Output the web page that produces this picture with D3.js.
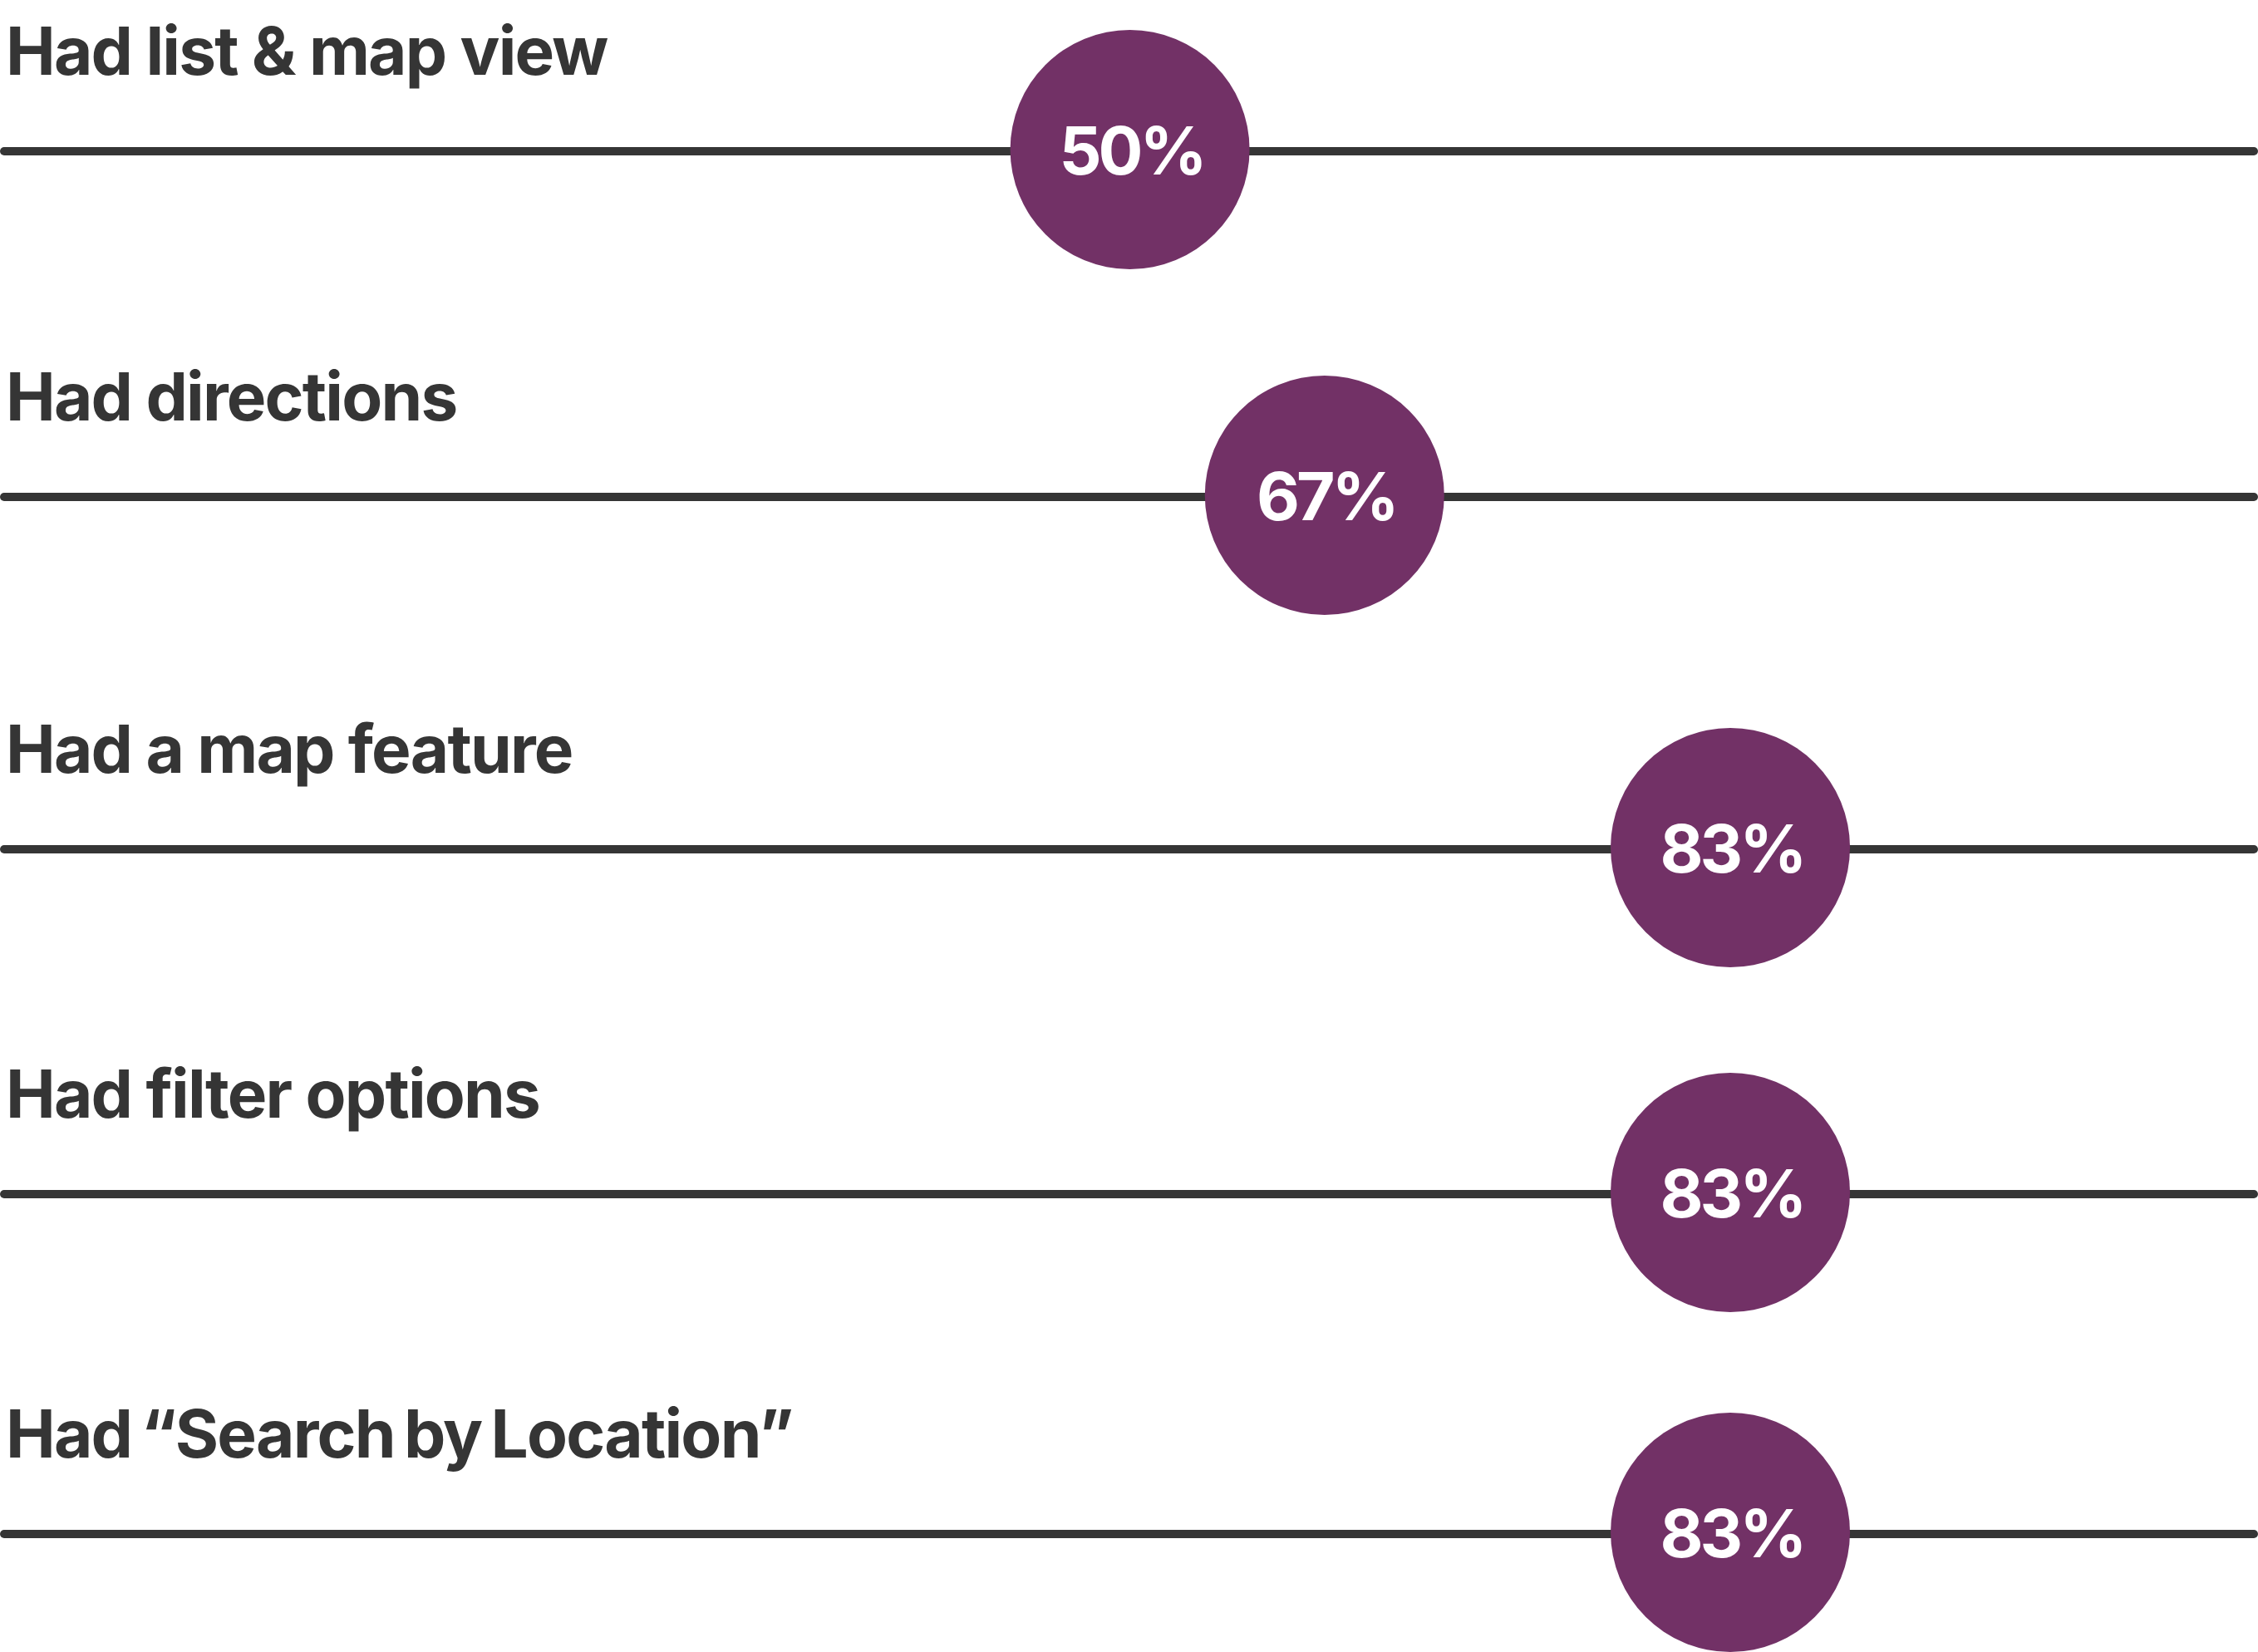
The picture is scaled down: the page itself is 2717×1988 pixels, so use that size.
<!DOCTYPE html>
<html>
<head>
<meta charset="utf-8">
<script src="https://cdn.jsdelivr.net/npm/d3@7"></script>
<style>
  html, body { margin: 0; padding: 0; background: #ffffff; }
  svg { display: block; }
</style>
</head>
<body>
<div id="chart"></div>
<script>
const categories = [
  "Had list & map view",
  "Had directions",
  "Had a map feature",
  "Had filter options",
  "Had \u201CSearch by Location\u201D"
];
const values = [50, 67, 83, 83, 83];
const valueLabels = ["50%", "67%", "83%", "83%", "83%"];

const W = 2717, H = 1988;
const svg = d3.select("#chart").append("svg")
  .attr("width", W).attr("height", H);

// horizontal placement scale (the reference places the markers on a non-uniform track)
const x = d3.scaleLinear()
  .domain([0, 50, 67, 83, 100])
  .range([0, W * 0.5004, W * 0.5866, W * 0.7663, W]);

const rowY = [182, 598, 1022, 1437, 1846];

const textColor = "#353535";
const dotColor = "#723166";
const R = 144;

const rows = svg.selectAll("g.row")
  .data(categories.map((c, i) => ({ c, v: values[i], lab: valueLabels[i], i })))
  .join("g")
  .attr("class", "row")
  .attr("transform", d => `translate(0,${rowY[d.i]})`);

rows.append("line")
  .attr("x1", 5).attr("x2", W - 5)
  .attr("y1", 0).attr("y2", 0)
  .attr("stroke", textColor)
  .attr("stroke-width", 10)
  .attr("stroke-linecap", "round");

rows.append("text")
  .attr("x", 7)
  .attr("y", -92)
  .attr("fill", textColor)
  .attr("font-family", "Inter, 'Noto Sans', sans-serif")
  .attr("font-weight", 700)
  .attr("font-size", 80)
  .attr("letter-spacing", "-1.8px")
  .attr("word-spacing", d => d.i === 4 ? "-6px" : "0px")
  .text(d => d.c);

rows.append("circle")
  .attr("cx", d => x(d.v))
  .attr("cy", -2)
  .attr("r", R)
  .attr("fill", dotColor);

rows.append("text")
  .attr("x", d => x(d.v) + 2)
  .attr("y", 28)
  .attr("text-anchor", "middle")
  .attr("fill", "#ffffff")
  .attr("font-family", "Inter, 'Noto Sans', sans-serif")
  .attr("font-weight", 700)
  .attr("font-size", 80)
  .attr("letter-spacing", "-4px")
  .text(d => d.lab);
</script>
</body>
</html>
